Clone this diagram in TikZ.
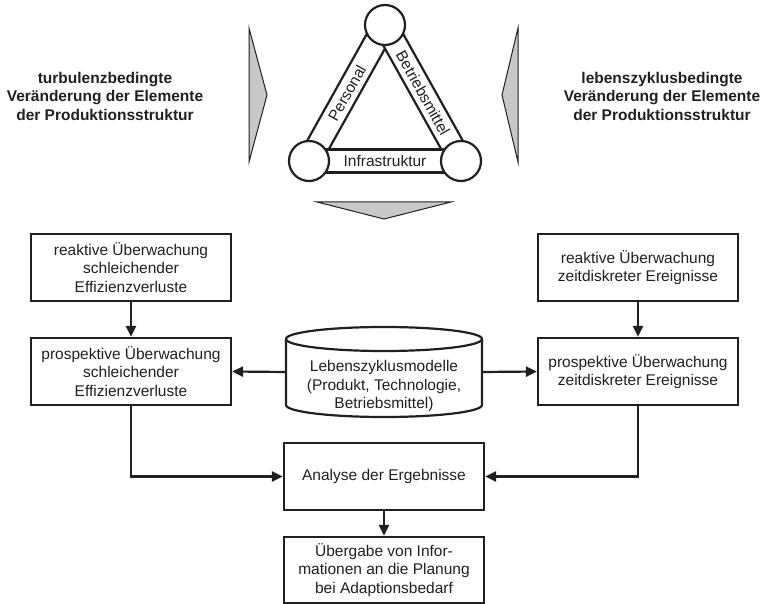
\documentclass[tikz,border=0pt]{standalone}
\usepackage{fontspec}
\setmainfont{Liberation Sans}
\usetikzlibrary{arrows.meta}
\definecolor{ink}{HTML}{231F20}
\definecolor{wedge}{HTML}{C8C8C8}
\newcommand{\fs}{\fontsize{15.5}{18.5}\selectfont}
\tikzset{
  stepbox/.style={draw=ink, line width=2.2pt, minimum width=200pt, minimum height=67pt,
                  align=center, inner sep=0pt, font=\fs, text=ink},
  band/.style={draw=ink, fill=white, line width=2.2pt, minimum width=125pt,
               minimum height=23pt, inner sep=0pt, font=\fs, text=ink},
  joint/.style={circle, draw=ink, fill=white, line width=2.2pt, minimum size=40pt, inner sep=0pt},
  flow/.style={draw=ink, line width=2.2pt, -{Triangle[length=11pt,width=10pt]}},
  sidetext/.style={align=center, font=\fs\bfseries, text=ink},
  wedgeshape/.style={draw=ink, fill=wedge, line width=1pt, line join=miter}
}
\begin{document}
\begin{tikzpicture}[x=1pt,y=-1pt]
\useasboundingbox (0,0) rectangle (766,604);

% side captions
\node[sidetext] (capL) at (105,96) {turbulenzbedingte\\Veränderung der Elemente\\der Produktionsstruktur};
\node[sidetext] (capR) at (662,96) {lebenszyklusbedingte\\Veränderung der Elemente\\der Produktionsstruktur};

% grey wedges around the triangle
\draw[wedgeshape] (249,28) -- (267,95) -- (249,162) -- cycle;
\draw[wedgeshape] (518,28) -- (502,95) -- (518,162) -- cycle;
\draw[wedgeshape] (317,202) -- (451,202) -- (384,219) -- cycle;

% triangle of production structure elements
\coordinate (P) at (385,25);
\coordinate (L) at (309,161);
\coordinate (R) at (461,161);
\path (L) -- node[band, sloped] (bandP) {Personal} (P);
\path (P) -- node[band, sloped] (bandB) {Betriebsmittel} (R);
\path (L) -- node[band, minimum width=120pt] (bandI) {Infrastruktur} (R);
\node[joint] (cP) at (P) {};
\node[joint] (cL) at (L) {};
\node[joint] (cR) at (R) {};

% monitoring boxes
\node[stepbox] (lt) at (131,267.5) {reaktive Überwachung\\schleichender\\Effizienzverluste};
\node[stepbox] (lm) at (131,371.5) {prospektive Überwachung\\schleichender\\Effizienzverluste};
\node[stepbox] (rt) at (638,267.5) {reaktive Überwachung\\zeitdiskreter Ereignisse};
\node[stepbox] (rm) at (638,371.5) {prospektive Überwachung\\zeitdiskreter Ereignisse};
\node[stepbox] (ana) at (384,476.5) {Analyse der Ergebnisse};
\node[stepbox, minimum height=66pt] (ub) at (384,570) {Übergabe von Infor-\\mationen an die Planung\\bei Adaptionsbedarf};

% life cycle model database
\node[minimum width=196pt, minimum height=66pt, inner sep=0pt] (db) at (384,372) {};
\draw[draw=ink, fill=white, line width=2.2pt]
  (286,339) -- (286,405) arc[start angle=180, end angle=0, x radius=98, y radius=12] -- (482,339);
\draw[draw=ink, fill=white, line width=2.2pt] (384,339) ellipse[x radius=98, y radius=12];
\node[align=center, font=\fs, text=ink, inner sep=0pt] (dbtext) at (384,386)
  {Lebenszyklusmodelle\\(Produkt, Technologie,\\Betriebsmittel)};

% connectors
\draw[flow] (lt) -- (lm);
\draw[flow] (rt) -- (rm);
\draw[flow] (db.west) -- (lm.east);
\draw[flow] (db.east) -- (rm.west);
\draw[flow] (lm.south) |- (ana.west);
\draw[flow] (rm.south) |- (ana.east);
\draw[flow] (ana) -- (ub);
\end{tikzpicture}
\end{document}
